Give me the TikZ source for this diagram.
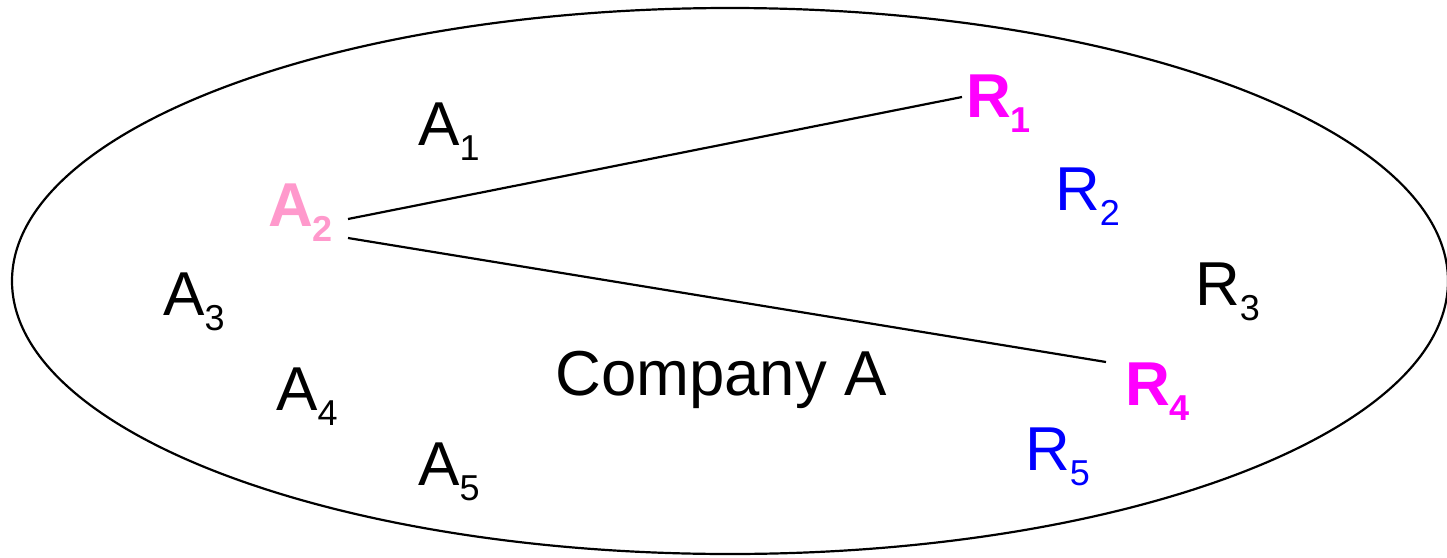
\documentclass[tikz,border=0pt]{standalone}
\usepackage{fontspec}
\setmainfont{Liberation Sans}
\definecolor{apink}{RGB}{255,153,204}
\definecolor{rmag}{RGB}{255,0,255}
\definecolor{rblue}{RGB}{0,0,255}
\newcommand{\mysub}[1]{\raisebox{-15pt}{\fontsize{36}{36}\selectfont #1}}
\begin{document}
\begin{tikzpicture}[x=1pt,y=1pt,
  lbl/.style={anchor=base west,inner sep=0pt,font=\fontsize{62}{62}\selectfont},
  conn/.style={line width=2.2pt}]
\useasboundingbox (0,0) rectangle (1447,-557);
\draw[line width=2.2pt] (730,-281) ellipse [x radius=718, y radius=273];
\node[lbl] (a1) at (418,-145) {A\mysub{1}};
\node[lbl,text=apink,font=\fontsize{62}{62}\selectfont\bfseries] (a2) at (268,-226) {A\mysub{2}};
\node[lbl] (a3) at (163,-315) {A\mysub{3}};
\node[lbl] (a4) at (276,-410) {A\mysub{4}};
\node[lbl] (a5) at (418,-485) {A\mysub{5}};
\node[lbl,text=rmag,font=\fontsize{62}{62}\selectfont\bfseries] (r1) at (966,-117) {R\mysub{1}};
\node[lbl,text=rblue] (r2) at (1055,-210) {R\mysub{2}};
\node[lbl] (r3) at (1195,-305) {R\mysub{3}};
\node[lbl,text=rmag,font=\fontsize{62}{62}\selectfont\bfseries] (r4) at (1125,-405) {R\mysub{4}};
\node[lbl,text=rblue] (r5) at (1025,-470) {R\mysub{5}};
\node[lbl,font=\fontsize{63.5}{63.5}\selectfont] (co) at (555,-395) {Company A};
\coordinate (a2t) at (348,-219);
\coordinate (a2b) at (348,-238);
\coordinate (r1e) at (962,-97);
\coordinate (r4e) at (1106,-362);
\draw[conn] (a2t) -- (r1e);
\draw[conn] (a2b) -- (r4e);
\end{tikzpicture}
\end{document}
